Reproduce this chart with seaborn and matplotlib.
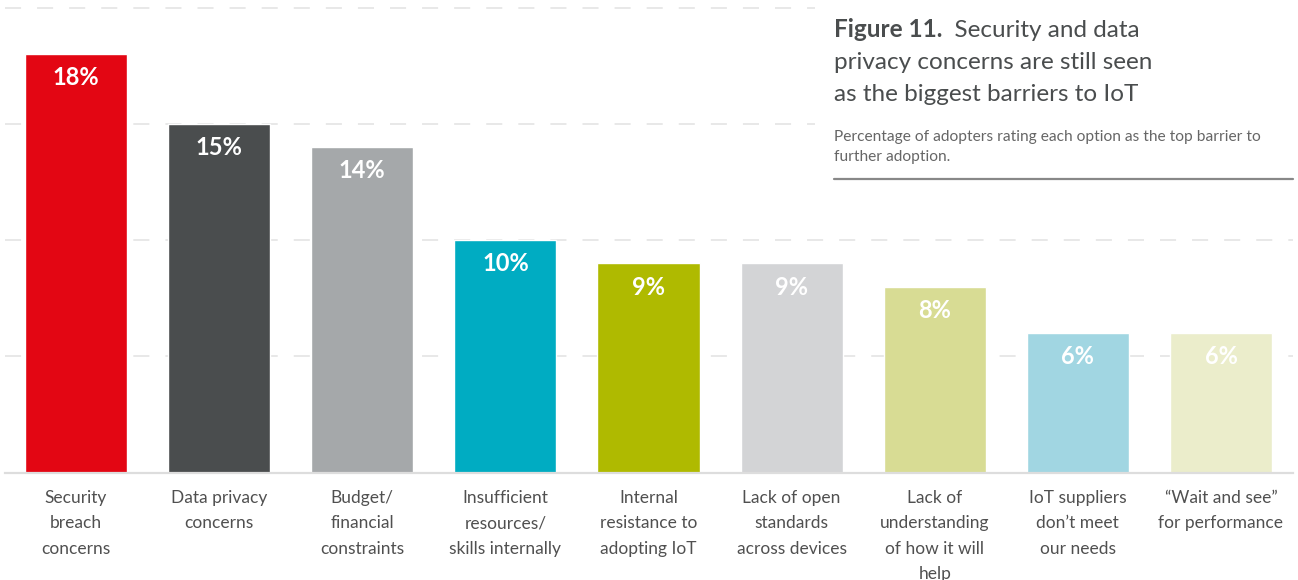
import matplotlib
matplotlib.use("Agg")
import matplotlib.pyplot as plt
import seaborn as sns
from matplotlib.patches import Rectangle
from matplotlib.text import Annotation

# datos
categories = [
    "Security\nbreach\nconcerns",
    "Data privacy\nconcerns",
    "Budget/\nfinancial\nconstraints",
    "Insufficient\nresources/\nskills internally",
    "Internal\nresistance to\nadopting IoT",
    "Lack of open\nstandards\nacross devices",
    "Lack of\nunderstanding\nof how it will\nhelp",
    "IoT suppliers\ndon\u2019t meet\nour needs",
    "\u201cWait and see\u201d\nfor performance",
]
values = [18, 15, 14, 10, 9, 9, 8, 6, 6]
bar_labels = ["18%", "15%", "14%", "10%", "9%", "9%", "8%", "6%", "6%"]
colors = ["#e30613", "#4a4d4e", "#a5a8aa", "#00acc2", "#afba00",
          "#d3d4d6", "#d8dc94", "#a1d6e2", "#ebedcb"]

sns.set_style("white")
plt.rcParams["font.family"] = ["Lato", "DejaVu Sans"]
text_col = "#4a4d4e"

fig = plt.figure(figsize=(12.98, 5.80), dpi=100)
ax = fig.add_axes([4.5 / 1298, 107.5 / 580, 1288 / 1298, 467.3 / 580])

sns.barplot(x=list(range(len(values))), y=values, hue=list(range(len(values))),
            palette=colors, legend=False, width=0.713, saturation=1, ax=ax)

ax.set_xlim(-0.5, 8.5)
ax.set_ylim(0, 20.1)
ax.set_yticks([5, 10, 15, 20])
ax.yaxis.grid(True, color="#e1e1e1", linewidth=1.1, linestyle=(0, (10.5, 10.5)))
ax.set_axisbelow(True)
ax.tick_params(axis="y", left=False, labelleft=False)
ax.tick_params(axis="x", bottom=False, pad=9, labelsize=12.5, labelcolor="#505050")
ax.set_xticks(range(len(values)))
ax.set_xticklabels(categories, linespacing=1.72, va="top")
ax.set_xlabel("")
ax.set_ylabel("")
for s in ["top", "left", "right"]:
    ax.spines[s].set_visible(False)
ax.spines["bottom"].set_color("#dddddd")
ax.spines["bottom"].set_linewidth(1.6)

# etiquetas de las barras
for i, (v, lab) in enumerate(zip(values, bar_labels)):
    ax.annotate(lab, xy=(i, v), xytext=(0, -22.5), textcoords="offset points",
                ha="center", va="baseline", color="white", fontsize=17,
                fontweight="bold")

# caja del título
fig.patches.append(Rectangle((815 / 1298, 0.66), 1, 0.4, transform=fig.transFigure,
                             facecolor="white", edgecolor="none", zorder=2))

t1 = fig.text(834 / 1298, 1 - 37 / 580, "Figure 11.", fontsize=17.5, fontweight="bold",
              color=text_col, va="baseline", zorder=4)
fig.add_artist(Annotation("  Security and data", xy=(1, 0), xycoords=t1,
                          va="bottom", ha="left", fontsize=17.5, color=text_col,
                          zorder=4))
fig.text(834 / 1298, 1 - 69 / 580, "privacy concerns are still seen", fontsize=17.5,
         color=text_col, va="baseline", zorder=4)
fig.text(834 / 1298, 1 - 101 / 580, "as the biggest barriers to IoT", fontsize=17.5,
         color=text_col, va="baseline", zorder=4)
fig.text(834 / 1298, 1 - 141 / 580,
         "Percentage of adopters rating each option as the top barrier to",
         fontsize=11.2, color="#666666", va="baseline", zorder=4)
fig.text(834 / 1298, 1 - 161 / 580, "further adoption.",
         fontsize=11.2, color="#666666", va="baseline", zorder=4)
fig.lines.append(plt.Line2D([834 / 1298, 1293 / 1298], [1 - 179 / 580, 1 - 179 / 580],
                            transform=fig.transFigure, color="#888888", linewidth=1.6,
                            zorder=4))

fig.savefig("out.png", dpi=100)
